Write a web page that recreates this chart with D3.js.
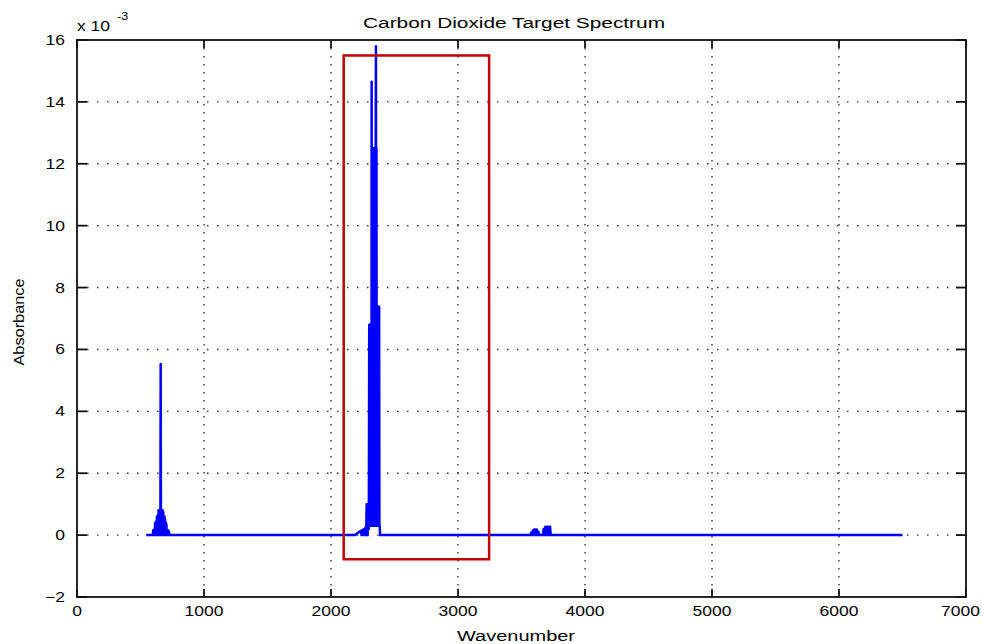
<!DOCTYPE html>
<html>
<head>
<meta charset="utf-8">
<script src="https://cdn.jsdelivr.net/npm/d3@7"></script>
<style>
  html, body { margin: 0; padding: 0; background: #fff; }
  svg { display: block; }
  text { font-family: "Liberation Sans", Arial, Helvetica, sans-serif; fill: #000; }
</style>
</head>
<body>
<svg id="chart" width="982" height="644"></svg>
<script>
// ---------------- DATA ----------------
const chartTitle = "Carbon Dioxide Target Spectrum";
const xLabel = "Wavenumber";
const yLabel = "Absorbance";
const yExponent = "-3";

const xTicks = [0, 1000, 2000, 3000, 4000, 5000, 6000, 7000];
const yTicks = [-2, 0, 2, 4, 6, 8, 10, 12, 14, 16];

// baseline end points [wavenumber, absorbance x 1e-3]
const baselinePoints = [[545, 0], [6500, 0]];

// bending band near 667 cm-1
const band667 = [
  [598,0],[600,0.16],[602,0],[605,0.16],[608,0],[611,0.2],[613,0],[615,0.4],[617,0],[620,0.4],
  [622,0],[625,0.45],[627,0],[629,0.6],[631,0],[634,0.6],[636,0],[638,0.65],[640,0],[642,0.8],
  [644,0],[647,0.8],[649,0],[652,0.8],[654,0],[657,0.8],[659,5.53],[661,0],[664,0.8],[666,0],
  [669,0.8],[671,0],[674,0.8],[676,0],[679,0.75],[681,0],[684,0.6],[686,0],[689,0.6],[691,0],
  [694,0.5],[696,0],[699,0.4],[701,0],[704,0.35],[706,0],[710,0.16],[713,0],[717,0.16],[720,0],
  [724,0.12],[727,0]
];

// asymmetric stretch band near 2349 cm-1
const band2349 = [
  [2190,0],[2205,0.05],[2220,0.1],[2235,0.14],[2240,0],[2245,0.16],[2250,0],[2255,0.18],[2260,0],
  [2265,0.2],[2268,0],[2272,0.25],[2275,0],[2278,0.3],
  [2281,1.0],[2283,0],[2286,1.0],[2288,0],[2291,1.0],[2293,0.2],[2296,1.0],[2298,0.2],
  [2301,6.8],[2303,0.3],[2305,6.8],[2307,0.3],[2309,6.8],[2311,0.3],[2313,6.8],[2315,0.3],
  [2317,6.8],[2319,0.3],[2320,14.65],[2322,0.3],
  [2324,12.5],[2326,0.3],[2328,12.5],[2330,0.3],[2332,12.5],[2334,0.3],[2336,12.5],[2338,0.3],
  [2340,12.5],[2342,0.3],[2344,12.5],[2346,0.3],[2348,12.5],[2350,0.3],[2352,12.5],[2354,15.8],
  [2356,0.3],[2358,12.5],[2360,0.3],
  [2362,7.38],[2364,0.3],[2366,7.38],[2368,0.3],[2370,7.38],[2372,0.3],[2374,7.38],[2376,0.3],
  [2379,7.38],[2381,0.3],[2384,0.3],[2386,0]
];

// combination bands near 3600 / 3700 cm-1
const band3700 = [
  [3570,0],[3580,0.1],[3585,0],[3590,0.15],[3595,0],[3600,0.18],[3605,0],[3610,0.18],[3615,0],
  [3620,0.18],[3625,0],[3632,0.12],[3640,0],
  [3668,0],[3675,0.2],[3680,0],[3688,0.27],[3693,0],[3700,0.27],[3705,0],[3712,0.27],[3717,0],
  [3725,0.27],[3730,0],[3738,0]
];

// highlighted region (red box), in data units
const highlightX = [2100, 3245];
const highlightY = [-0.78, 15.5];

// ---------------- LAYOUT ----------------
const svg = d3.select("#chart");
const M = { left: 77, right: 966, top: 40, bottom: 597 };
const SX = 1.25; // horizontal text stretch of the original picture

const x = d3.scaleLinear().domain([0, 7000]).range([M.left, M.right]);
const y = d3.scaleLinear().domain([-2, 16]).range([M.bottom, M.top]);

// grid
const grid = svg.append("g").attr("stroke", "#333").attr("stroke-width", 1.4);
grid.selectAll("line.vg").data(xTicks.filter(d => d > 0 && d < 7000)).join("line")
  .attr("x1", d => x(d)).attr("x2", d => x(d))
  .attr("y1", M.top).attr("y2", M.bottom)
  .attr("stroke-dasharray", "1.5,6.5");
grid.selectAll("line.hg").data(yTicks.filter(d => d > -2 && d < 16)).join("line")
  .attr("y1", d => y(d)).attr("y2", d => y(d))
  .attr("x1", M.left).attr("x2", M.right)
  .attr("stroke-dasharray", "1.5,8.5");

// spectrum
const spectrum = baselinePoints.concat(band667, band2349, band3700)
  .slice().sort((a, b) => a[0] - b[0]);
const line = d3.line().x(d => x(d[0])).y(d => y(d[1]));
svg.append("path")
  .datum(spectrum)
  .attr("d", line)
  .attr("fill", "none")
  .attr("stroke", "#0000ff")
  .attr("stroke-width", 2.5)
  .attr("stroke-linejoin", "round");

// red highlight box
svg.append("rect")
  .attr("x", x(highlightX[0])).attr("y", y(highlightY[1]))
  .attr("width", x(highlightX[1]) - x(highlightX[0]))
  .attr("height", y(highlightY[0]) - y(highlightY[1]))
  .attr("fill", "none")
  .attr("stroke", "#c00000")
  .attr("stroke-width", 2.5);

// axes box and inward ticks
const axes = svg.append("g").attr("stroke", "#111").attr("stroke-width", 1.8);
axes.append("rect")
  .attr("x", M.left).attr("y", M.top)
  .attr("width", M.right - M.left).attr("height", M.bottom - M.top)
  .attr("fill", "none");
const tx = 8, ty = 10;
xTicks.forEach(d => {
  axes.append("line").attr("x1", x(d)).attr("x2", x(d)).attr("y1", M.bottom).attr("y2", M.bottom - tx);
  axes.append("line").attr("x1", x(d)).attr("x2", x(d)).attr("y1", M.top).attr("y2", M.top + tx);
});
yTicks.forEach(d => {
  axes.append("line").attr("y1", y(d)).attr("y2", y(d)).attr("x1", M.left).attr("x2", M.left + ty);
  axes.append("line").attr("y1", y(d)).attr("y2", y(d)).attr("x1", M.right).attr("x2", M.right - ty);
});

// tick labels
const fmt = d3.format("d");
const lastX = xTicks[xTicks.length - 1];
svg.append("g").selectAll("text").data(xTicks).join("text")
  .attr("transform", d => d === lastX
      ? `translate(${980},${616}) scale(${SX},1)`
      : `translate(${x(d)},${616}) scale(${SX},1)`)
  .attr("text-anchor", d => d === lastX ? "end" : "middle")
  .attr("font-size", 14)
  .text(d => fmt(d));
svg.append("g").selectAll("text").data(yTicks).join("text")
  .attr("transform", d => `translate(${65},${y(d) + 5}) scale(${SX},1)`)
  .attr("text-anchor", "end")
  .attr("font-size", 14)
  .text(d => fmt(d));

// exponent label
svg.append("text")
  .attr("transform", `translate(${M.left},${31}) scale(${SX},1)`)
  .attr("font-size", 14)
  .text("x 10");
svg.append("text")
  .attr("transform", `translate(${117},${20}) scale(${SX},1)`)
  .attr("font-size", 10)
  .text(yExponent);

// title
svg.append("text")
  .attr("x", 514).attr("y", 28)
  .attr("text-anchor", "middle")
  .attr("font-size", 14)
  .attr("textLength", 302).attr("lengthAdjust", "spacingAndGlyphs")
  .text(chartTitle);

// axis labels
svg.append("text")
  .attr("x", 516).attr("y", 641)
  .attr("text-anchor", "middle")
  .attr("font-size", 14)
  .attr("textLength", 118).attr("lengthAdjust", "spacingAndGlyphs")
  .text(xLabel);
svg.append("text")
  .attr("transform", `translate(24,322) rotate(-90)`)
  .attr("text-anchor", "middle")
  .attr("font-size", 14)
  .attr("textLength", 87).attr("lengthAdjust", "spacingAndGlyphs")
  .text(yLabel);
</script>
</body>
</html>
